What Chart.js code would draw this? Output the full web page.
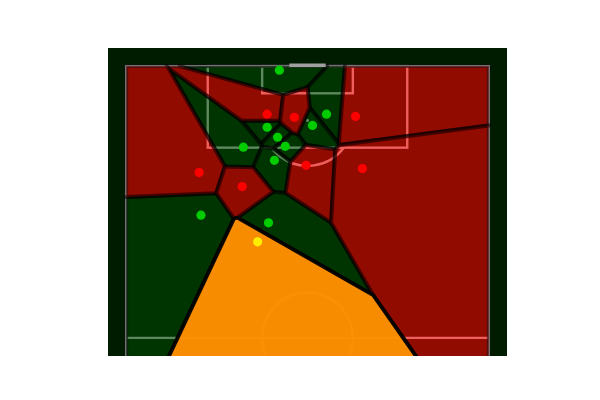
<!DOCTYPE html>
<html>
<head>
<meta charset="utf-8">
<script src="https://cdn.jsdelivr.net/npm/chart.js@4.4.1/dist/chart.umd.min.js"></script>
<style>
html,body{margin:0;padding:0;background:#ffffff;}
#c{display:block;}
</style>
</head>
<body>
<canvas id="c" width="600" height="400"></canvas>
<script>
// Player positions (pitch coords: x across 0..80, y along 0..120, goal at top)
const greenX = [33.8, 44.2, 41.1, 31.1, 33.4, 35.1, 25.85, 32.7, 16.5, 31.4];
const greenY = [119.1, 109.4, 106.9, 106.5, 104.3, 102.3, 102.1, 99.2, 87.1, 85.4];
const redX = [31.1, 37.1, 50.6, 39.7, 52.1, 16.1, 25.6];
const redY = [109.4, 108.7, 108.9, 98.1, 97.4, 96.5, 93.4];
const yellowX = [29.0];
const yellowY = [81.2];

const BG = '#001c00';
const FILL = {green: 'rgba(0,66,0,0.63)', red: 'rgba(229,1,0,0.63)', yellow: 'rgba(251,142,0,0.985)'};
const DOT = {green: '#00cc00', red: '#ff0000', yellow: '#ffee00'};

function sites() {
  const s = [];
  greenX.forEach((v, i) => s.push({x: v, y: greenY[i], team: 'green'}));
  redX.forEach((v, i) => s.push({x: v, y: redY[i], team: 'red'}));
  yellowX.forEach((v, i) => s.push({x: v, y: yellowY[i], team: 'yellow'}));
  return s;
}

// Voronoi cell of each site, clipped to the pitch rectangle
function clipHalf(poly, a, b) {
  const nx = b.x - a.x, ny = b.y - a.y;
  const mx = (a.x + b.x) / 2, my = (a.y + b.y) / 2;
  const f = p => (p.x - mx) * nx + (p.y - my) * ny;
  const out = [];
  for (let i = 0; i < poly.length; i++) {
    const p = poly[i], q = poly[(i + 1) % poly.length];
    const fp = f(p), fq = f(q);
    if (fp <= 0) out.push(p);
    if ((fp < 0 && fq > 0) || (fp > 0 && fq < 0)) {
      const t = fp / (fp - fq);
      out.push({x: p.x + t * (q.x - p.x), y: p.y + t * (q.y - p.y)});
    }
  }
  return out;
}
function cells(s) {
  return s.map((a, i) => {
    let poly = [{x: 0, y: 0}, {x: 80, y: 0}, {x: 80, y: 120}, {x: 0, y: 120}];
    s.forEach((b, j) => { if (j !== i) poly = clipHalf(poly, a, b); });
    return {poly, team: a.team};
  });
}

const pitchPlugin = {
  id: 'pitch',
  beforeDatasetsDraw(chart) {
    const {ctx, chartArea: a, scales: {x, y}} = chart;
    const px = v => x.getPixelForValue(v), py = v => y.getPixelForValue(v);
    const unit = px(1) - px(0);
    ctx.save();
    ctx.beginPath(); ctx.rect(a.left, a.top, a.right - a.left, a.bottom - a.top); ctx.clip();
    ctx.fillStyle = BG;
    ctx.fillRect(a.left, a.top, a.right - a.left, a.bottom - a.top);

    // pitch markings
    ctx.strokeStyle = '#ffffff';
    ctx.lineWidth = 2.4;
    const box = (x0, y0, x1, y1) => { ctx.strokeRect(px(x0), py(y1), px(x1) - px(x0), py(y0) - py(y1)); };
    box(0, 0, 80, 120);
    box(18, 102, 62, 120);
    box(30, 114, 50, 120);
    ctx.beginPath(); ctx.moveTo(px(0), py(60)); ctx.lineTo(px(80), py(60)); ctx.stroke();
    const t0 = Math.asin(0.6);
    ctx.beginPath(); ctx.arc(px(40), py(108), 10 * unit, t0, Math.PI - t0); ctx.stroke();
    ctx.beginPath(); ctx.arc(px(40), py(60), 10 * unit, 0, Math.PI * 2); ctx.stroke();
    ctx.fillStyle = '#ffffff';
    ctx.beginPath(); ctx.arc(px(40), py(108), 1.6, 0, Math.PI * 2); ctx.fill();
    ctx.beginPath(); ctx.arc(px(40), py(60), 1.6, 0, Math.PI * 2); ctx.fill();

    // voronoi cells
    const cs = cells(sites());
    const path = poly => {
      ctx.beginPath();
      poly.forEach((p, i) => { i ? ctx.lineTo(px(p.x), py(p.y)) : ctx.moveTo(px(p.x), py(p.y)); });
      ctx.closePath();
    };
    ctx.lineJoin = 'round';
    cs.filter(c => c.team !== 'yellow').forEach(c => {
      path(c.poly);
      ctx.fillStyle = FILL[c.team]; ctx.fill();
      ctx.strokeStyle = 'rgba(0,0,0,0.55)'; ctx.lineWidth = 4; ctx.stroke();
    });
    cs.filter(c => c.team === 'yellow').forEach(c => {
      path(c.poly);
      ctx.fillStyle = FILL[c.team]; ctx.fill();
      ctx.strokeStyle = 'rgba(0,0,0,0.95)'; ctx.lineWidth = 3.8; ctx.stroke();
    });

    // goal
    ctx.strokeStyle = '#a0a0a0';
    ctx.lineWidth = 3.5;
    ctx.lineCap = 'butt';
    ctx.beginPath(); ctx.moveTo(px(36), py(120) - 0.8); ctx.lineTo(px(44), py(120) - 0.8); ctx.stroke();
    ctx.restore();
  }
};

const toPts = (xs, ys) => xs.map((v, i) => ({x: v, y: ys[i]}));

new Chart(document.getElementById('c'), {
  type: 'scatter',
  data: {
    datasets: [
      {label: 'Team', data: toPts(greenX, greenY), backgroundColor: DOT.green, pointRadius: 4.6, pointBorderWidth: 0},
      {label: 'Opponents', data: toPts(redX, redY), backgroundColor: DOT.red, pointRadius: 4.6, pointBorderWidth: 0},
      {label: 'Actor', data: toPts(yellowX, yellowY), backgroundColor: DOT.yellow, pointRadius: 4.6, pointBorderWidth: 0}
    ]
  },
  options: {
    responsive: false,
    animation: false,
    devicePixelRatio: 1,
    layout: {padding: {left: 108, right: 93, top: 48, bottom: 44}},
    plugins: {legend: {display: false}, tooltip: {enabled: false}},
    scales: {
      x: {type: 'linear', min: -4, max: 84, display: false},
      y: {type: 'linear', min: 56, max: 124, display: false}
    }
  },
  plugins: [pitchPlugin]
});
</script>
</body>
</html>
